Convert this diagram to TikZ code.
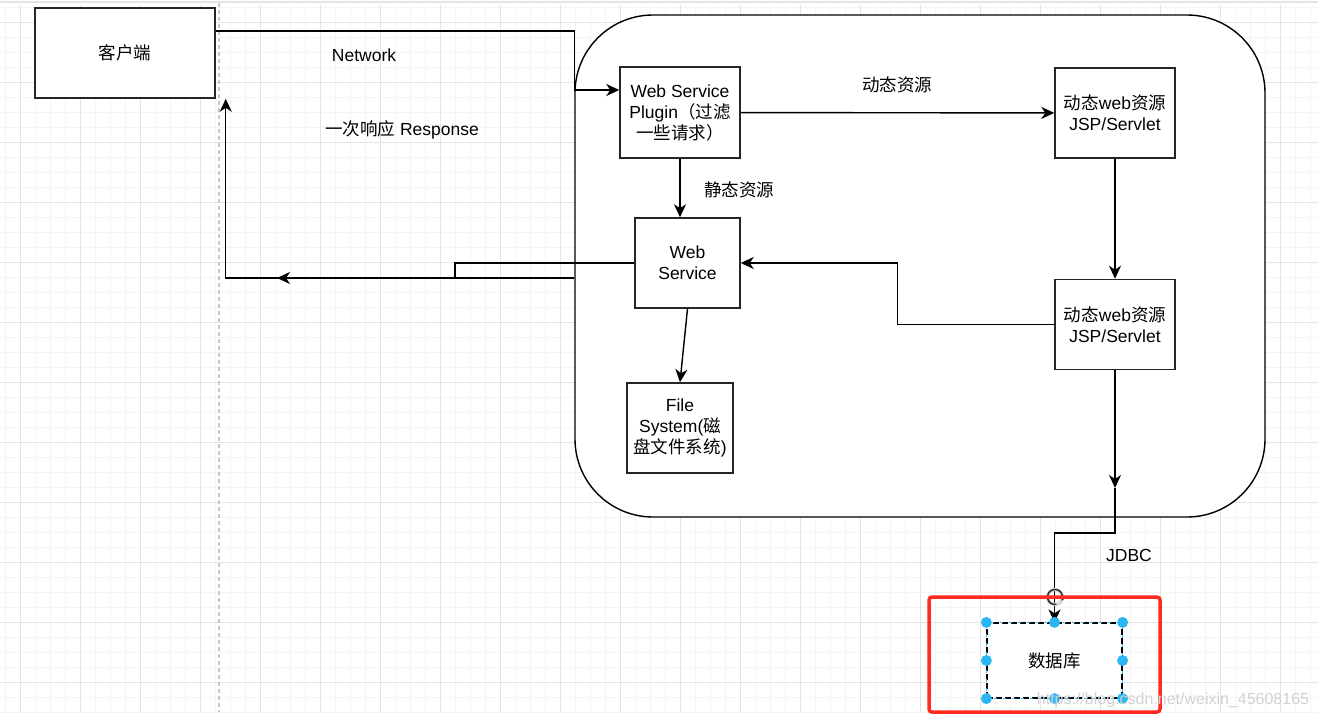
\documentclass[tikz,border=0pt]{standalone}
\usepackage{fontspec}
\setmainfont{Liberation Sans}
\newfontfamily\cjk{Noto Sans CJK SC}
\newcommand{\zh}[1]{{\cjk #1}}
\usetikzlibrary{arrows.meta,positioning,calc}
\definecolor{gridminor}{HTML}{F4F4F4}
\definecolor{gridmajor}{HTML}{E4E4E4}
\definecolor{selblue}{HTML}{29B6F2}
\definecolor{markred}{HTML}{FF2A20}

\begin{document}
\begin{tikzpicture}[x=1pt,y=-1pt,>={Stealth[length=13pt,width=12pt,inset=4pt]},
    every node/.style={font=\fontsize{17.5}{21}\selectfont},
    box/.style={draw=black!85,line width=1.5pt,fill=white,align=center,inner sep=0pt,
        minimum width=120pt,minimum height=90pt},
    conn/.style={->,line width=1.4pt},
    lbl/.style={inner sep=0pt}]
    \useasboundingbox (0,0) rectangle (1318,720);
    \foreach \x in {5,20,...,1318} \draw[gridminor,line width=1pt] (\x,5) -- (\x,712);
    \foreach \y in {7,22,...,712} \draw[gridminor,line width=1pt] (0,\y) -- (1318,\y);
    \foreach \x in {20,80,...,1318} \draw[gridmajor,line width=1pt] (\x,5) -- (\x,712);
    \foreach \y in {22,82,...,712} \draw[gridmajor,line width=1pt] (0,\y) -- (1318,\y);
    \draw[gridmajor,line width=1.5pt] (0,2) -- (1318,2);
    \draw[black!22,line width=1.5pt,dash pattern=on 4pt off 3pt] (219,3) -- (219,712);

    \node[draw=black,line width=1.4pt,fill=white,rounded corners=78pt,
        minimum width=690pt,minimum height=502pt] (server) at (920,266) {};

    \node[box,minimum width=180pt,minimum height=90pt] (client) at (125,53) {\zh{客户端}};
    \node[box,minimum height=91pt] (plugin) at (680,112.5) {Web Service\\Plugin\zh{（过滤}\\\zh{一些请求）}};
    \node[box] (dyn1) at (1115,113) {\zh{动态}web\zh{资源}\\JSP/Servlet};
    \node[box] (dyn2) [below=120pt of dyn1] {\zh{动态}web\zh{资源}\\JSP/Servlet};
    \node[box,minimum width=105pt] (ws) at (687.5,263) {Web\\Service};
    \node[box,minimum width=106pt] (fs) at (680,428) {File\\System(\zh{磁}\\\zh{盘文件系统})};
    \node[draw=black,line width=1.2pt,dash pattern=on 6pt off 3pt,fill=white,minimum width=135pt,
        minimum height=75pt,inner sep=0pt] (db) at (1054.5,660.5) {\zh{数据库}};

    \node[lbl] (net) at (364,55) {Network};
    \node[lbl] (resp) at (402,130) {\zh{一次响应} Response};
    \node[lbl] (dynres) at (897,85) {\zh{动态资源}};
    \node[lbl] (statres) at (739,190) {\zh{静态资源}};
    \node[lbl] (jdbc) at (1129,555) {JDBC};

    \coordinate (pin) at ([yshift=22.5pt]plugin.west);
    \coordinate (rbend) at (455,278);
    \coordinate (rtip) at (277,278);
    \coordinate (jtip) at (1115,488);
    \coordinate (jbend) at (1115,533);

    \draw[conn] ([yshift=22pt]client.east) -| (pin -| server.west) -- (pin);
    \draw[conn] (plugin) -- (dyn1);
    \draw[conn] (plugin.south) -- (plugin.south |- ws.north);
    \draw[conn] (dyn1) -- (dyn2);
    \draw[conn] (dyn2.west) -| ($(ws.east)!.5!(dyn2.west)$) |- (ws.east);
    \draw[conn] (ws.south) -- (fs.north);
    \draw[conn] (ws.west) -| (rbend) -| ([xshift=10pt]client.south east);
    \draw[conn] (server.west |- rbend) -- (rtip);
    \draw[conn] (dyn2.south) -- (jtip);
    \draw[conn] (jtip) -- (jbend) -| (db.north);

    \draw[selblue,line width=1.2pt,dash pattern=on 3pt off 6pt,dash phase=6pt]
        (db.north west) rectangle (db.south east);
    \foreach \a in {north west,north,north east,east,south east,south,south west,west}
        \fill[selblue] (db.\a) circle (5.5);
    \draw[black!15,line width=3.5pt] (1055,597) circle (7.5);
    \draw[black!80,line width=1.6pt,-{Stealth[length=4pt,width=4pt]}] (1055,597) ++(80:7.5) arc (80:390:7.5);
    \draw[markred,line width=3.5pt,rounded corners=3pt] (929,597) rectangle (1160,712);
    \node[lbl,text=black!18,font=\fontsize{16}{18}\selectfont] (mark) at (1173,700)
        {https://blog.csdn.net/weixin\_45608165};
\end{tikzpicture}
\end{document}
